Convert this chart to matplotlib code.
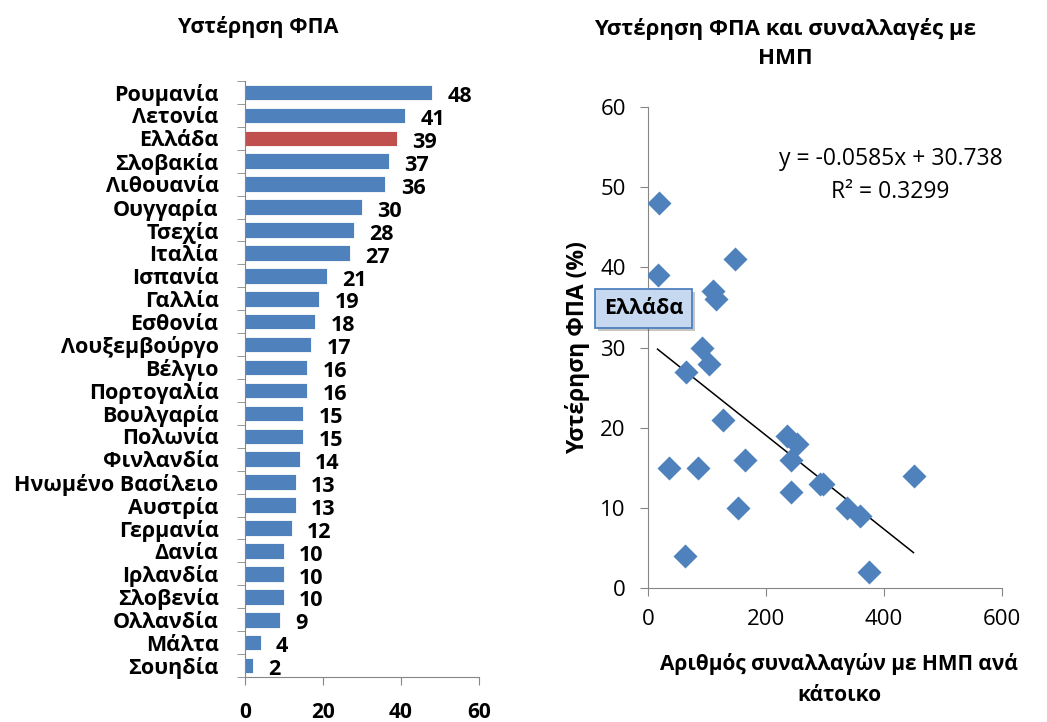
import matplotlib
matplotlib.use("Agg")
import matplotlib.pyplot as plt
import matplotlib.patheffects as pe
import numpy as np

plt.rcParams['font.family'] = ['Open Sans', 'DejaVu Sans']

countries = ["Ρουμανία", "Λετονία", "Ελλάδα", "Σλοβακία", "Λιθουανία", "Ουγγαρία",
             "Τσεχία", "Ιταλία", "Ισπανία", "Γαλλία", "Εσθονία", "Λουξεμβούργο",
             "Βέλγιο", "Πορτογαλία", "Βουλγαρία", "Πολωνία", "Φινλανδία",
             "Ηνωμένο Βασίλειο", "Αυστρία", "Γερμανία", "Δανία", "Ιρλανδία",
             "Σλοβενία", "Ολλανδία", "Μάλτα", "Σουηδία"]
vat_gap = [48, 41, 39, 37, 36, 30, 28, 27, 21, 19, 18, 17, 16, 16, 15, 15, 14,
           13, 13, 12, 10, 10, 10, 9, 4, 2]
highlight = "Ελλάδα"

# scatter: card transactions per inhabitant vs VAT gap
sc_x = [18, 16, 147, 110, 115, 91, 104, 64, 127, 235, 253, 242, 164, 35, 85,
        450, 292, 297, 242, 152, 338, 360, 63, 375]
sc_y = [48, 39, 41, 37, 36, 30, 28, 27, 21, 19, 18, 16, 16, 15, 15,
        14, 13, 13, 12, 10, 10, 9, 4, 2]
slope, intercept = -0.0585, 30.738
r2 = 0.3299
greece_pt = (16, 39)

BLUE = '#4F81BD'
RED = '#C0504D'
GRAY = '#868686'

fig = plt.figure(figsize=(10.47, 7.22), dpi=100)

# ---------- left: bar chart ----------
ax1 = fig.add_axes([0.234, 0.0623, 0.2235, 0.8255])
n = len(countries)
ypos = np.arange(n)
colors = [RED if c == highlight else BLUE for c in countries]
ax1.barh(ypos, vat_gap, height=0.68, color=colors, edgecolor='white', linewidth=0.6)
ax1.set_ylim(n - 0.5, -0.5)
ax1.set_xlim(0, 60)
ax1.set_yticks(ypos)
ax1.set_yticklabels(countries, fontsize=15.5, fontweight='bold')
ax1.set_yticks(np.arange(-0.5, n, 1), minor=True)
ax1.tick_params(axis='y', which='major', length=0, pad=19)
ax1.tick_params(axis='y', which='minor', length=6, color=GRAY, direction='out')
ax1.set_xticks([0, 20, 40, 60])
ax1.set_xticklabels(['0', '20', '40', '60'], fontsize=15, fontweight='bold')
ax1.tick_params(axis='x', length=6, color=GRAY, direction='out', pad=12)
for s in ['top', 'right']:
    ax1.spines[s].set_visible(False)
for s in ['left', 'bottom']:
    ax1.spines[s].set_color(GRAY)
for y, v in zip(ypos, vat_gap):
    ax1.annotate(str(v), (v, y), xytext=(11, -3), textcoords='offset points',
                 ha='left', va='center', fontsize=15.5, fontweight='bold')
fig.text(0.247, 0.962, "Υστέρηση ΦΠΑ", ha='center', va='center', fontsize=15.5,
         fontweight='bold')

# ---------- right: scatter ----------
ax2 = fig.add_axes([0.619, 0.1856, 0.338, 0.666])
ax2.scatter(sc_x, sc_y, marker='D', s=150, color=BLUE, zorder=3, linewidths=0)
xl = np.array([min(sc_x), max(sc_x)])
ax2.plot(xl, slope * xl + intercept, color='black', lw=1.1, zorder=2)
ax2.set_xlim(0, 600)
ax2.set_ylim(0, 60)
ax2.set_xticks([0, 200, 400, 600])
ax2.set_yticks([0, 10, 20, 30, 40, 50, 60])
ax2.tick_params(axis='both', labelsize=16, length=6, color=GRAY, direction='out')
ax2.tick_params(axis='y', pad=10)
ax2.tick_params(axis='x', pad=9)
for s in ['top', 'right']:
    ax2.spines[s].set_visible(False)
for s in ['left', 'bottom']:
    ax2.spines[s].set_color(GRAY)
ax2.text(0.685, 0.857, f"y = {slope}x + {intercept}\nR² = {r2}", transform=ax2.transAxes,
         ha='center', va='center', fontsize=16.5, linespacing=1.5)
ax2.set_ylabel("Υστέρηση ΦΠΑ (%)", fontsize=16.5, fontweight='bold')
ax2.yaxis.set_label_coords(-0.165, 0.5)
ax2.set_xlabel("Αριθμός συναλλαγών με ΗΜΠ ανά\nκάτοικο", fontsize=15,
               fontweight='bold', linespacing=1.6)
ax2.xaxis.set_label_coords(0.54, -0.245)
ax2.xaxis.label.set_va('bottom')
t = ax2.annotate("Ελλάδα", greece_pt, xytext=(-10, -24), textcoords='offset points',
                 ha='center', va='center', fontsize=15.5, fontweight='bold',
                 bbox=dict(boxstyle='square,pad=0.42', fc='#C6D9F1', ec=BLUE, lw=1.3),
                 annotation_clip=False, zorder=5)
t.get_bbox_patch().set_path_effects([pe.withSimplePatchShadow(offset=(2, -2), alpha=0.3)])
fig.text(0.75, 0.94, "Υστέρηση ΦΠΑ και συναλλαγές με\nΗΜΠ", ha='center', va='center',
         fontsize=16, fontweight='bold', linespacing=1.5)

fig.savefig("out.png", dpi=100)
